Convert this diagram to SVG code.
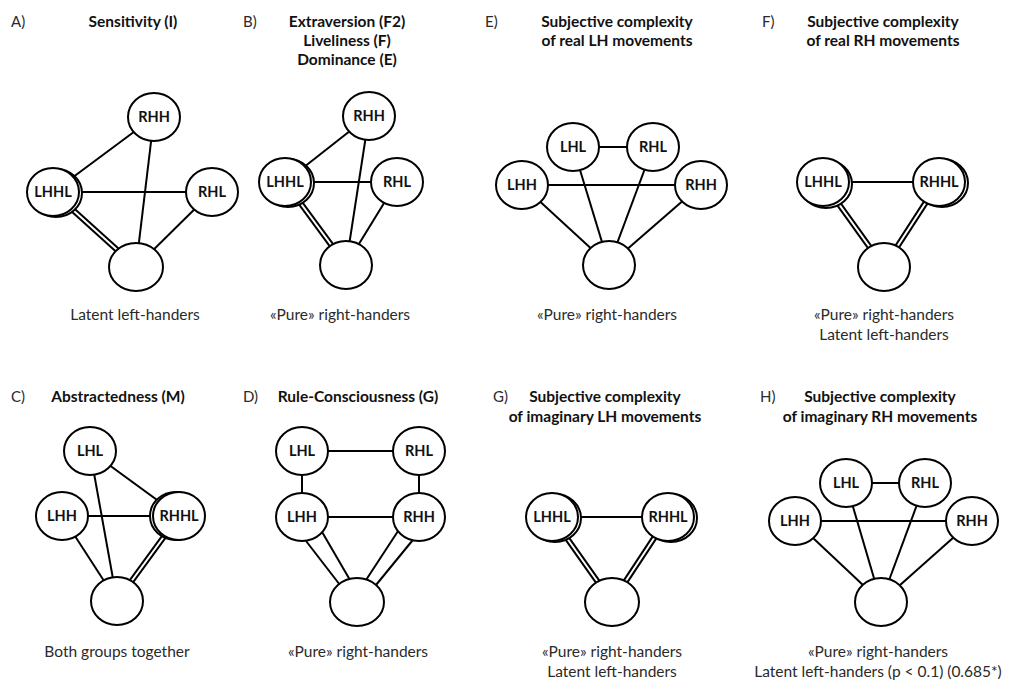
<svg xmlns="http://www.w3.org/2000/svg" width="1009" height="682" viewBox="0 0 1009 682">
<style>
.n{fill:#fff;stroke:#000;stroke-width:2}
.e{stroke:#000;stroke-width:2;fill:none}
.d1{stroke:#000;stroke-width:6}
.d2{stroke:#fff;stroke-width:2}
.lbl{font-family:Lato,"Liberation Sans",sans-serif;font-weight:bold;font-size:14.5px;text-anchor:middle;fill:#111}
.ttl{font-family:Lato,"Liberation Sans",sans-serif;font-weight:bold;font-size:15.5px;text-anchor:middle;fill:#111}
.cap{font-family:Lato,"Liberation Sans",sans-serif;font-size:15.5px;text-anchor:middle;fill:#2a2a2a}
.pl{font-family:Lato,"Liberation Sans",sans-serif;font-size:15px;fill:#2a2a2a}
</style>
<rect width="1009" height="682" fill="#fff"/>

<g id="texts">
<text class="pl" x="11" y="27">A)</text>
<text class="ttl" x="133" y="27">Sensitivity (I)</text>
<text class="cap" x="135" y="320">Latent left-handers</text>

<text class="pl" x="243" y="27">B)</text>
<text class="ttl" x="347" y="27">Extraversion (F2)</text>
<text class="ttl" x="347" y="46">Liveliness (F)</text>
<text class="ttl" x="347" y="65">Dominance (E)</text>
<text class="cap" x="340" y="320">«Pure» right-handers</text>

<text class="pl" x="485" y="27">E)</text>
<text class="ttl" x="617" y="27">Subjective complexity</text>
<text class="ttl" x="617" y="46">of real LH movements</text>
<text class="cap" x="607" y="320">«Pure» right-handers</text>

<text class="pl" x="762" y="27">F)</text>
<text class="ttl" x="883" y="27">Subjective complexity</text>
<text class="ttl" x="883" y="46">of real RH movements</text>
<text class="cap" x="884" y="320">«Pure» right-handers</text>
<text class="cap" x="884" y="340">Latent left-handers</text>

<text class="pl" x="11" y="402">C)</text>
<text class="ttl" x="118" y="402">Abstractedness (M)</text>
<text class="cap" x="117" y="657">Both groups together</text>

<text class="pl" x="243" y="402">D)</text>
<text class="ttl" x="358" y="402">Rule-Consciousness (G)</text>
<text class="cap" x="358" y="657">«Pure» right-handers</text>

<text class="pl" x="493" y="402">G)</text>
<text class="ttl" x="605" y="402">Subjective complexity</text>
<text class="ttl" x="605" y="422">of imaginary LH movements</text>
<text class="cap" x="612" y="657">«Pure» right-handers</text>
<text class="cap" x="612" y="677">Latent left-handers</text>

<text class="pl" x="760" y="402">H)</text>
<text class="ttl" x="880" y="402">Subjective complexity</text>
<text class="ttl" x="880" y="422">of imaginary RH movements</text>
<text class="cap" x="878" y="657">«Pure» right-handers</text>
<text class="cap" x="878" y="677">Latent left-handers (p &lt; 0.1) (0.685*)</text>
</g>

<g id="connectors">
<!-- A -->
<line class="e" x1="53" y1="192" x2="154" y2="117"/>
<line class="e" x1="154" y1="117" x2="136" y2="267"/>
<line class="e" x1="53" y1="192" x2="212" y2="192"/>
<line class="e" x1="212" y1="192" x2="136" y2="267"/>
<line class="d1" x1="53" y1="192" x2="136" y2="267"/>
<line class="d2" x1="53" y1="192" x2="136" y2="267"/>
<!-- B -->
<line class="e" x1="285" y1="182" x2="369" y2="116"/>
<line class="e" x1="369" y1="116" x2="346" y2="265"/>
<line class="e" x1="285" y1="182" x2="397" y2="182"/>
<line class="e" x1="397" y1="182" x2="346" y2="265"/>
<line class="d1" x1="285" y1="182" x2="346" y2="265"/>
<line class="d2" x1="285" y1="182" x2="346" y2="265"/>
<!-- E -->
<line class="e" x1="573" y1="147" x2="653" y2="147"/>
<line class="e" x1="522" y1="185" x2="701" y2="185"/>
<line class="e" x1="522" y1="185" x2="609" y2="265"/>
<line class="e" x1="573" y1="147" x2="609" y2="265"/>
<line class="e" x1="653" y1="147" x2="609" y2="265"/>
<line class="e" x1="701" y1="185" x2="609" y2="265"/>
<!-- F -->
<line class="e" x1="823" y1="182" x2="939" y2="182"/>
<line class="d1" x1="823" y1="182" x2="884" y2="267"/>
<line class="d2" x1="823" y1="182" x2="884" y2="267"/>
<line class="d1" x1="939" y1="182" x2="884" y2="267"/>
<line class="d2" x1="939" y1="182" x2="884" y2="267"/>
<!-- C -->
<line class="e" x1="90" y1="451" x2="179" y2="516"/>
<line class="e" x1="90" y1="451" x2="117" y2="601"/>
<line class="e" x1="62" y1="516" x2="179" y2="516"/>
<line class="e" x1="62" y1="516" x2="117" y2="601"/>
<line class="d1" x1="179" y1="516" x2="117" y2="601"/>
<line class="d2" x1="179" y1="516" x2="117" y2="601"/>
<!-- D -->
<line class="e" x1="302" y1="451" x2="419" y2="451"/>
<line class="e" x1="302" y1="451" x2="302" y2="517"/>
<line class="e" x1="419" y1="451" x2="419" y2="517"/>
<line class="e" x1="302" y1="517" x2="419" y2="517"/>
<line class="e" x1="296" y1="528" x2="340" y2="585"/>
<line class="e" x1="318" y1="525" x2="350" y2="580"/>
<line class="e" x1="402" y1="525" x2="366" y2="580"/>
<line class="e" x1="421" y1="530" x2="376" y2="585"/>
<!-- G -->
<line class="e" x1="552" y1="517" x2="668" y2="517"/>
<line class="d1" x1="552" y1="517" x2="612" y2="602"/>
<line class="d2" x1="552" y1="517" x2="612" y2="602"/>
<line class="d1" x1="668" y1="517" x2="612" y2="602"/>
<line class="d2" x1="668" y1="517" x2="612" y2="602"/>
<!-- H -->
<line class="e" x1="846" y1="483" x2="925" y2="483"/>
<line class="e" x1="795" y1="521" x2="972" y2="521"/>
<line class="e" x1="795" y1="521" x2="881" y2="602"/>
<line class="e" x1="846" y1="483" x2="881" y2="602"/>
<line class="e" x1="925" y1="483" x2="881" y2="602"/>
<line class="e" x1="972" y1="521" x2="881" y2="602"/>
</g>

<!-- A nodes -->
<g id="A_RHH"><ellipse class="n" cx="154" cy="117" rx="26" ry="24"/><text class="lbl" x="154" y="122">RHH</text></g>
<g id="A_LHHL"><ellipse class="n" cx="56" cy="193" rx="26" ry="24"/><ellipse class="n" cx="53" cy="192" rx="26" ry="24"/><text class="lbl" x="53" y="197">LHHL</text></g>
<g id="A_RHL"><ellipse class="n" cx="212" cy="192" rx="26" ry="24"/><text class="lbl" x="212" y="197">RHL</text></g>
<g id="A_bottom"><ellipse class="n" cx="136" cy="267" rx="27" ry="24"/></g>

<!-- B nodes -->
<g id="B_RHH"><ellipse class="n" cx="369" cy="116" rx="26" ry="24"/><text class="lbl" x="369" y="121">RHH</text></g>
<g id="B_LHHL"><ellipse class="n" cx="288" cy="183" rx="26" ry="24"/><ellipse class="n" cx="285" cy="182" rx="26" ry="24"/><text class="lbl" x="285" y="187">LHHL</text></g>
<g id="B_RHL"><ellipse class="n" cx="397" cy="182" rx="26" ry="24"/><text class="lbl" x="397" y="187">RHL</text></g>
<g id="B_bottom"><ellipse class="n" cx="346" cy="265" rx="26" ry="24"/></g>

<!-- E nodes -->
<g id="E_LHL"><ellipse class="n" cx="573" cy="147" rx="26" ry="24"/><text class="lbl" x="573" y="152">LHL</text></g>
<g id="E_RHL"><ellipse class="n" cx="653" cy="147" rx="26" ry="24"/><text class="lbl" x="653" y="152">RHL</text></g>
<g id="E_LHH"><ellipse class="n" cx="522" cy="185" rx="26" ry="24"/><text class="lbl" x="522" y="190">LHH</text></g>
<g id="E_RHH"><ellipse class="n" cx="701" cy="185" rx="26" ry="24"/><text class="lbl" x="701" y="190">RHH</text></g>
<g id="E_bottom"><ellipse class="n" cx="609" cy="265" rx="26" ry="24"/></g>

<!-- F nodes -->
<g id="F_LHHL"><ellipse class="n" cx="826" cy="184" rx="26" ry="24"/><ellipse class="n" cx="823" cy="182" rx="26" ry="24"/><text class="lbl" x="823" y="187">LHHL</text></g>
<g id="F_RHHL"><ellipse class="n" cx="942" cy="183" rx="26" ry="24"/><ellipse class="n" cx="939" cy="182" rx="26" ry="24"/><text class="lbl" x="939" y="187">RHHL</text></g>
<g id="F_bottom"><ellipse class="n" cx="884" cy="267" rx="26" ry="24"/></g>

<!-- C nodes -->
<g id="C_LHL"><ellipse class="n" cx="90" cy="451" rx="26" ry="24"/><text class="lbl" x="90" y="456">LHL</text></g>
<g id="C_LHH"><ellipse class="n" cx="62" cy="516" rx="26" ry="24"/><text class="lbl" x="62" y="521">LHH</text></g>
<g id="C_RHHL"><ellipse class="n" cx="176" cy="516" rx="26" ry="24"/><ellipse class="n" cx="179" cy="516" rx="26" ry="24"/><text class="lbl" x="179" y="521">RHHL</text></g>
<g id="C_bottom"><ellipse class="n" cx="117" cy="601" rx="26" ry="24"/></g>

<!-- D nodes -->
<g id="D_LHL"><ellipse class="n" cx="302" cy="451" rx="26" ry="24"/><text class="lbl" x="302" y="456">LHL</text></g>
<g id="D_RHL"><ellipse class="n" cx="419" cy="451" rx="26" ry="24"/><text class="lbl" x="419" y="456">RHL</text></g>
<g id="D_LHH"><ellipse class="n" cx="302" cy="517" rx="26" ry="24"/><text class="lbl" x="302" y="522">LHH</text></g>
<g id="D_RHH"><ellipse class="n" cx="419" cy="517" rx="26" ry="24"/><text class="lbl" x="419" y="522">RHH</text></g>
<g id="D_bottom"><ellipse class="n" cx="357" cy="602" rx="27" ry="24"/></g>

<!-- G nodes -->
<g id="G_LHHL"><ellipse class="n" cx="555" cy="518" rx="26" ry="24"/><ellipse class="n" cx="552" cy="517" rx="26" ry="24"/><text class="lbl" x="552" y="522">LHHL</text></g>
<g id="G_RHHL"><ellipse class="n" cx="671" cy="518" rx="26" ry="24"/><ellipse class="n" cx="668" cy="517" rx="26" ry="24"/><text class="lbl" x="668" y="522">RHHL</text></g>
<g id="G_bottom"><ellipse class="n" cx="612" cy="602" rx="27" ry="24"/></g>

<!-- H nodes -->
<g id="H_LHL"><ellipse class="n" cx="846" cy="483" rx="26" ry="24"/><text class="lbl" x="846" y="488">LHL</text></g>
<g id="H_RHL"><ellipse class="n" cx="925" cy="483" rx="26" ry="24"/><text class="lbl" x="925" y="488">RHL</text></g>
<g id="H_LHH"><ellipse class="n" cx="795" cy="521" rx="26" ry="24"/><text class="lbl" x="795" y="526">LHH</text></g>
<g id="H_RHH"><ellipse class="n" cx="972" cy="521" rx="26" ry="24"/><text class="lbl" x="972" y="526">RHH</text></g>
<g id="H_bottom"><ellipse class="n" cx="881" cy="602" rx="26" ry="24"/></g>
</svg>
